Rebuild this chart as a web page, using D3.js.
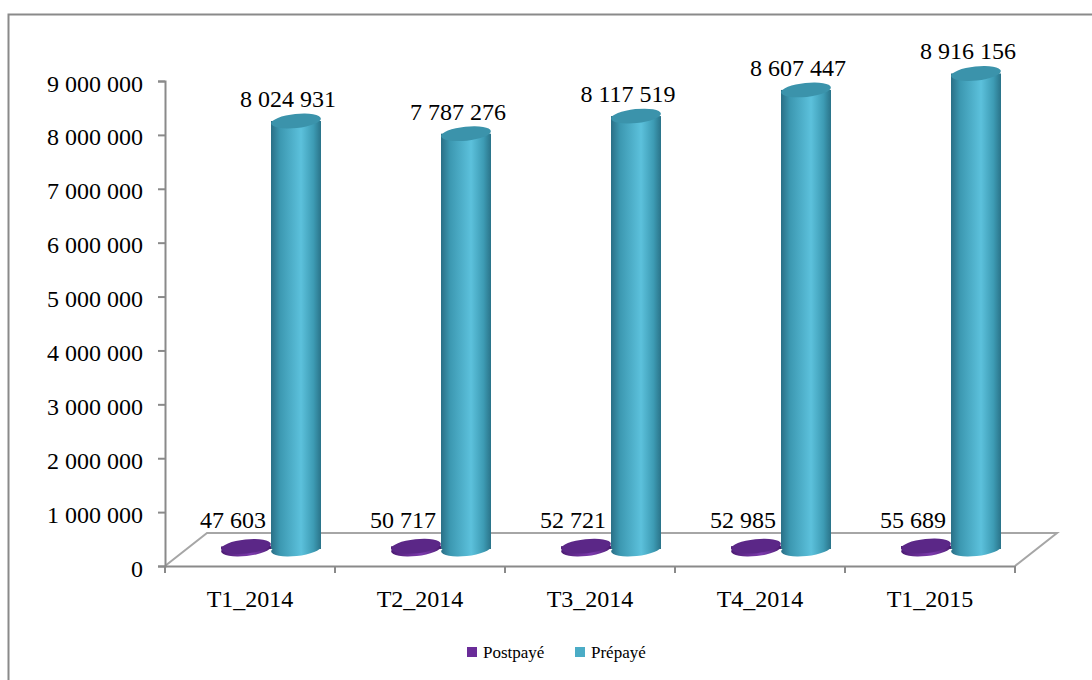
<!DOCTYPE html>
<html>
<head>
<meta charset="utf-8">
<script src="https://cdn.jsdelivr.net/npm/d3@7"></script>
<style>
  body { margin: 0; background: #fff; }
</style>
</head>
<body>
<div id="chart"></div>
<script>
// Data
var categories = ["T1_2014", "T2_2014", "T3_2014", "T4_2014", "T1_2015"];
var seriesNames = ["Postpayé", "Prépayé"];
var postpaye = [47603, 50717, 52721, 52985, 55689];
var prepaye = [8024931, 7787276, 8117519, 8607447, 8916156];
var yTicks = [0, 1000000, 2000000, 3000000, 4000000, 5000000, 6000000, 7000000, 8000000, 9000000];

var colors = ["#6a2c99", "#4bacc6"];
var FONT = "'Liberation Serif'";

function fmt(v) {
    return d3.format(",")(v).replace(/,/g, " ");
}

function drawChart() {
    d3.select("#chart").select("svg").remove();

    var W = 1092, H = 680;
    var svg = d3.select("#chart").append("svg")
        .attr("width", W)
        .attr("height", H);

    // outer frame
    svg.append("rect")
        .attr("x", 8.5).attr("y", 14.5)
        .attr("width", 1100).attr("height", 700)
        .attr("fill", "none")
        .attr("stroke", "#8a8a8a")
        .attr("stroke-width", 2);

    // front plane scales
    var x = d3.scaleBand().domain(categories).range([165, 1015]);
    var y = d3.scaleLinear().domain([0, 9000000]).range([566, 81]);

    // 3D depth offset of the floor
    var depth = { dx: 42, dy: -33 };

    // bars sit at half depth, with slightly smaller scale
    var yBar = d3.scaleLinear().domain([0, 9000000]).range([549, 69]);
    var sub = d3.scaleBand().domain(seriesNames).range([-50, 50]);

    // floor
    var x0 = x.range()[0], x1 = x.range()[1], y0 = y(0);
    svg.append("path")
        .attr("d", d3.line()([
            [x0, y0], [x0 + depth.dx, y0 + depth.dy],
            [x1 + depth.dx, y0 + depth.dy], [x1, y0]
        ]))
        .attr("fill", "none")
        .attr("stroke", "#a6a6a6")
        .attr("stroke-width", 2);

    // Y axis
    var yAxis = svg.append("g")
        .attr("transform", "translate(" + x0 + ",0)")
        .call(d3.axisLeft(y).tickValues(yTicks).tickFormat(fmt).tickSize(7).tickPadding(15));
    yAxis.select(".domain").attr("stroke", "#8a8a8a").attr("stroke-width", 2);
    yAxis.selectAll(".tick line").attr("stroke", "#8a8a8a").attr("stroke-width", 2);
    yAxis.selectAll(".tick text")
        .attr("font-size", 24)
        .style("font-family", FONT)
        .attr("dy", "0.42em");

    // X axis
    var xAxis = svg.append("g")
        .attr("transform", "translate(0," + y0 + ")")
        .call(d3.axisBottom(x).tickSize(0).tickPadding(24));
    xAxis.select(".domain").attr("stroke", "#8a8a8a").attr("stroke-width", 2);
    xAxis.selectAll(".tick text")
        .attr("font-size", 24)
        .style("font-family", FONT);
    // category separators
    xAxis.selectAll(".sep")
        .data(categories.concat(["end"]))
        .enter().append("line")
        .attr("x1", (d, i) => x0 + i * x.step())
        .attr("x2", (d, i) => x0 + i * x.step())
        .attr("y1", 0).attr("y2", 7)
        .attr("stroke", "#8a8a8a").attr("stroke-width", 2);

    // gradients, one per series (Postpayé, Prépayé)
    var defs = svg.append("defs");
    var gradStops = [
        ["#4c1c72", "#5e2789", "#7b3bab", "#612a8c", "#4a1b6f"],
        ["#2a6f86", "#3c98b1", "#5cc1dc", "#3d9bb4", "#2a7389"]
    ];
    gradStops.forEach(function (stops, k) {
        var g = defs.append("linearGradient")
            .attr("id", "grad" + k)
            .attr("x1", "0%").attr("x2", "100%").attr("y1", "0%").attr("y2", "0%");
        [0, 0.18, 0.6, 0.85, 1].forEach(function (o, i) {
            g.append("stop").attr("offset", o).attr("stop-color", stops[i]);
        });
    });
    var topColors = ["#5b2787", "#3b93ab"];

    var rx = 25, ry = 7, tilt = -6;
    var series = [postpaye, prepaye];

    series.forEach(function (vals, k) {
        var g = svg.append("g").attr("class", "series-" + k);
        var data = vals.map(function (v, i) {
            return {
                v: v,
                cx: x(categories[i]) + x.bandwidth() / 2 + depth.dx / 2 + sub(seriesNames[k]) + sub.bandwidth() / 2,
                base: yBar(0),
                top: yBar(v)
            };
        });

        var cyl = g.selectAll("g.cyl").data(data).enter().append("g").attr("class", "cyl");

        // bottom ellipse
        cyl.append("ellipse")
            .attr("cx", d => d.cx).attr("cy", d => d.base)
            .attr("rx", rx).attr("ry", ry)
            .attr("transform", d => "rotate(" + tilt + "," + d.cx + "," + d.base + ")")
            .attr("fill", "url(#grad" + k + ")");
        // body
        cyl.append("rect")
            .attr("x", d => d.cx - rx)
            .attr("y", d => d.top)
            .attr("width", rx * 2)
            .attr("height", d => d.base - d.top)
            .attr("fill", "url(#grad" + k + ")");
        // top ellipse
        cyl.append("ellipse")
            .attr("cx", d => d.cx).attr("cy", d => d.top)
            .attr("rx", rx).attr("ry", ry)
            .attr("transform", d => "rotate(" + tilt + "," + d.cx + "," + d.top + ")")
            .attr("fill", topColors[k]);

        // value labels
        g.selectAll("text.lbl").data(data).enter().append("text")
            .attr("class", "lbl")
            .attr("x", d => k === 0 ? d.cx - 13 : d.cx - 8)
            .attr("y", d => k === 0 ? d.top - 18 : d.top - 14)
            .attr("text-anchor", "middle")
            .attr("font-size", 24)
            .style("font-family", FONT)
            .text(d => fmt(d.v));
    });

    // legend
    var legendX = [467, 575];
    var legend = svg.append("g").attr("class", "legend");
    seriesNames.forEach(function (name, k) {
        legend.append("rect")
            .attr("x", legendX[k]).attr("y", 647)
            .attr("width", 10).attr("height", 10)
            .attr("fill", colors[k]);
        legend.append("text")
            .attr("x", legendX[k] + 16).attr("y", 658)
            .attr("font-size", 17)
            .style("font-family", FONT)
            .text(name);
    });
}

document.addEventListener('DOMContentLoaded', drawChart);
</script>
</body>
</html>
